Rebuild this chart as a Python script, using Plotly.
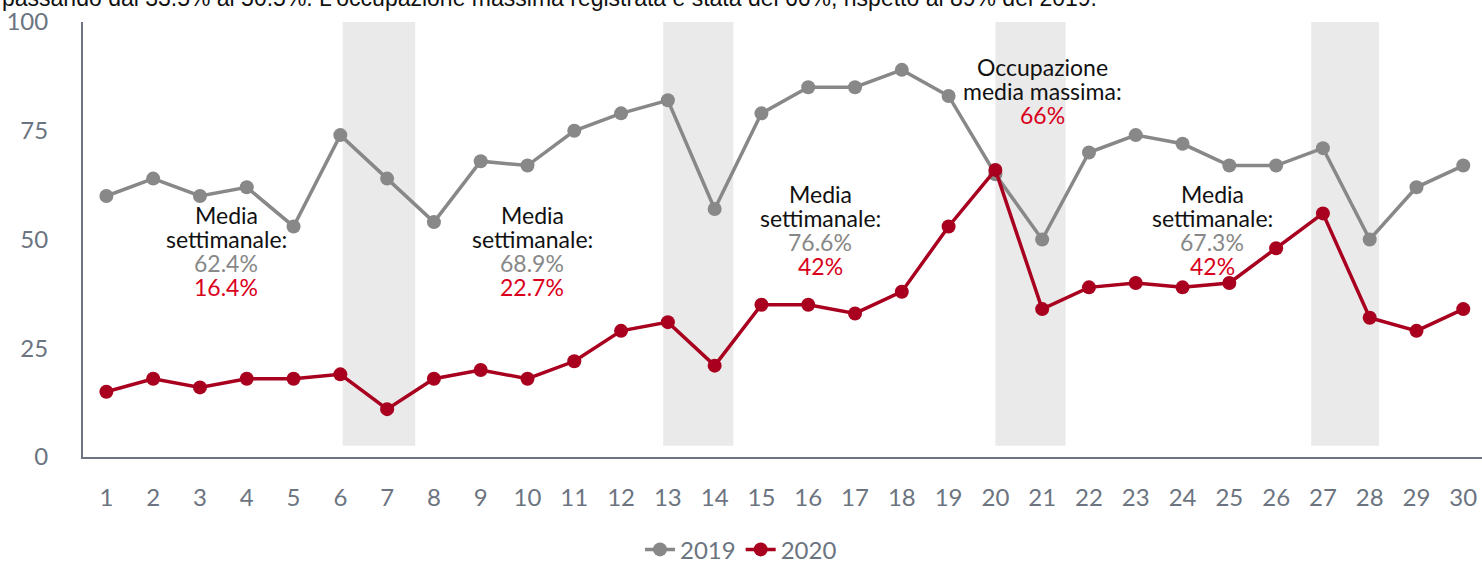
import plotly.graph_objects as go

days = list(range(1, 31))
occ_2019 = [60, 64, 60, 62, 53, 74, 64, 54, 68, 67, 75, 79, 82, 57, 79, 85, 85, 89, 83, 65,
            50, 70, 74, 72, 67, 67, 71, 50, 62, 67]
occ_2020 = [15, 18, 16, 18, 18, 19, 11, 18, 20, 18, 22, 29, 31, 21, 35, 35, 33, 38, 53, 66,
            34, 39, 40, 39, 40, 48, 56, 32, 29, 34]
weekend_start = [6.05, 12.9, 20.0, 26.75]
weekend_end = [7.6, 14.4, 21.5, 28.2]
week_avg_2019 = ["62.4%", "68.9%", "76.6%", "67.3%"]
week_avg_2020 = ["16.4%", "22.7%", "42%", "42%"]
week_label_x = [3.56, 10.1, 16.26, 24.64]
week_label_y = [59.3, 59.3, 64.1, 64.1]
max_label = "66%"
intro_text = ("passando dal 33.5% al 50.5%. L'occupazione massima registrata è stata del 66%, "
              "rispetto al 89% del 2019.")

GRAY = "#888888"
RED = "#A8001E"
TXT_RED = "#D9001B"
AXIS = "#6B7480"
LINE_H = 24
ANN_SIZE = 23

fig = go.Figure()
fig.add_trace(go.Scatter(x=days, y=occ_2019, name="2019", mode="lines+markers",
                         line=dict(color=GRAY, width=3.5), marker=dict(size=14, color=GRAY)))
fig.add_trace(go.Scatter(x=days, y=occ_2020, name="2020", mode="lines+markers",
                         line=dict(color=RED, width=3.5), marker=dict(size=14, color=RED)))

for s, e in zip(weekend_start, weekend_end):
    fig.add_shape(type="rect", xref="x", yref="y", x0=s, x1=e, y0=2.6, y1=100,
                  fillcolor="#EAEAEA", line=dict(width=0), layer="below")


def add_lines(x, y, lines):
    for i, (txt, col) in enumerate(lines):
        fig.add_annotation(x=x, y=y, xref="x", yref="y", xanchor="center", yanchor="top",
                           yshift=-LINE_H * i, showarrow=False, text=txt,
                           font=dict(family="Lato", size=ANN_SIZE, color=col))


for x, y, a19, a20 in zip(week_label_x, week_label_y, week_avg_2019, week_avg_2020):
    add_lines(x, y, [("Media", "#111111"), ("settimanale:", "#111111"),
                     (a19, GRAY), (a20, TXT_RED)])

add_lines(21.0, 93.3, [("Occupazione", "#111111"), ("media massima:", "#111111"),
                       (max_label, TXT_RED)])

fig.add_annotation(x=0, y=1.055, xref="paper", yref="paper", xanchor="left", yanchor="middle",
                   showarrow=False, text=intro_text, xshift=-83,
                   font=dict(family="Liberation Sans", size=23, color="#111111"))

fig.update_layout(
    width=1482, height=561,
    margin=dict(l=83, r=0, t=22, b=104),
    plot_bgcolor="white", paper_bgcolor="white",
    showlegend=True,
    legend=dict(orientation="h", xref="container", yref="container", x=0.5, y=0.02,
                xanchor="center", yanchor="middle",
                font=dict(family="Lato", size=24, color=AXIS)),
    xaxis=dict(range=[0.5, 30.4], tickmode="array", tickvals=days, ticktext=[str(d) for d in days],
               showgrid=False, zeroline=False, showline=True, linecolor=AXIS, linewidth=2,
               ticks="", ticklabelstandoff=18,
               tickfont=dict(family="Lato", size=24, color=AXIS)),
    yaxis=dict(range=[0, 100], tickvals=[0, 25, 50, 75, 100], showgrid=False, zeroline=False,
               showline=True, linecolor=AXIS, linewidth=2, ticks="", ticklabelstandoff=28,
               tickfont=dict(family="Lato", size=24, color=AXIS)),
)

fig.write_html("out.html", config={"displayModeBar": False},
               post_script="document.body.style.margin='0';")
